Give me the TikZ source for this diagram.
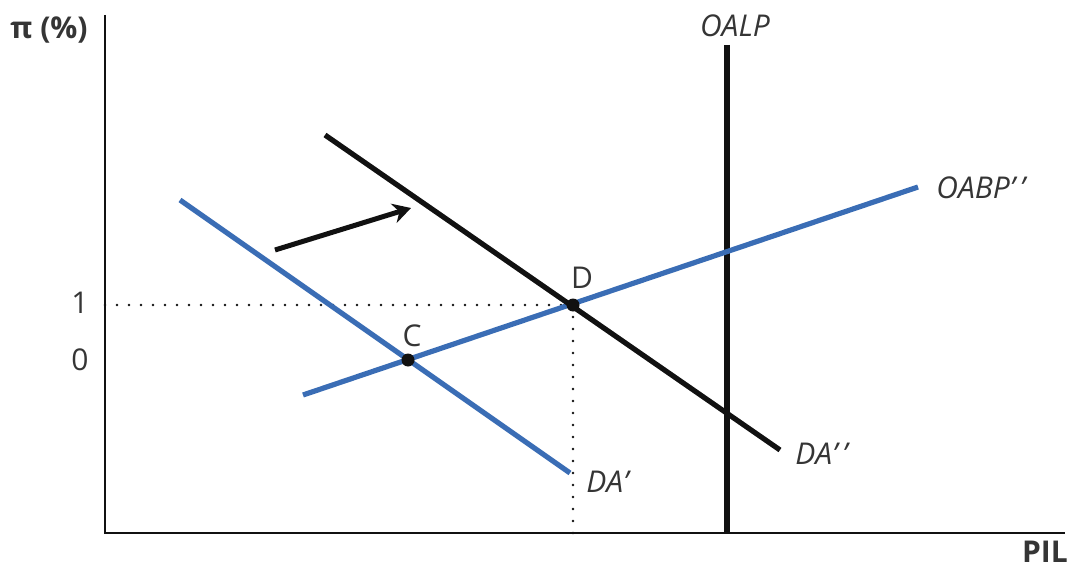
\documentclass[tikz,border=0pt]{standalone}
\usepackage{fontspec}
\setmainfont{Open Sans}
\usepackage{xcolor}
\usetikzlibrary{arrows.meta,positioning}
\definecolor{curveblue}{HTML}{3A6DB5}
\definecolor{curveblack}{HTML}{111111}
\tikzset{
  axisline/.style={curveblack, line width=1pt},
  bluecurve/.style={curveblue, line width=2.6pt},
  blackcurve/.style={curveblack, line width=2.6pt},
  shiftarrow/.style={curveblack, -{Stealth[length=9pt,width=10pt]}, line width=2.5pt},
  guide/.style={curveblack, line width=1.3pt, dash pattern=on 0pt off 6pt, line cap=round},
  eqpoint/.style={circle, fill=curveblack, inner sep=0pt, minimum size=6.5pt},
  curvelabel/.style={font=\fontsize{15}{17}\selectfont\itshape, text=curveblack!85, inner sep=0pt},
  ticklabel/.style={font=\fontsize{15}{17}\selectfont, text=curveblack!85, inner sep=0pt}
}
\begin{document}
\begin{tikzpicture}[x=0.5pt, y=-0.5pt]
  \useasboundingbox (0,0) rectangle (1071,567);
  % axes
  \coordinate (origin) at (105,533);
  \coordinate (ytop) at (105,15);
  \coordinate (xend) at (1065,533);
  \draw[axisline] (ytop) -- (origin) -- (xend);
  \node[ticklabel, font=\fontsize{15}{17}\selectfont\bfseries] (ylab) at (49,30) {π (\%)};
  \node[ticklabel, font=\fontsize{15}{17}\selectfont\bfseries] (xlab) at (1045,552) {PIL};
  % equilibrium points
  \coordinate (D) at (573,305);
  \coordinate (C) at (408,360);
  \coordinate (Dx) at (573,533);
  \coordinate (Dy) at (105,305);
  \node[ticklabel] (one) at (80,303) {1};
  \node[ticklabel] (zero) at (80,360) {0};
  % guides
  \draw[guide] (Dy) -- (D) -- (Dx);
  % curves
  \coordinate (oalptop) at (727,45);
  \coordinate (oalpbot) at (727,533);
  \draw[blackcurve] (oalptop) -- (oalpbot);
  \node[curvelabel] (oalp) at (735,26) {OALP};
  \coordinate (oabpA) at (303,395);
  \coordinate (oabpB) at (918,187);
  \draw[bluecurve] (oabpA) -- (oabpB);
  \node[curvelabel, anchor=west] (oabp) at (936,188) {OABP’\,’};
  \coordinate (dapA) at (180,200);
  \coordinate (dapB) at (570,473);
  \draw[bluecurve] (dapA) -- (dapB);
  \node[curvelabel, anchor=west] (dap) at (586,482) {DA’};
  \coordinate (dappA) at (325,135);
  \coordinate (dappB) at (780,450);
  \draw[blackcurve] (dappA) -- (dappB);
  \node[curvelabel, anchor=west] (dapp) at (795,454) {DA’\,’};
  % shift
  \coordinate (shiftA) at (275,250);
  \coordinate (shiftB) at (411,208);
  \draw[shiftarrow] (shiftA) -- (shiftB);
  % points
  \node[eqpoint] (Dpt) at (D) {};
  \node[eqpoint] (Cpt) at (C) {};
  \node[ticklabel] (Dlab) at (582,278) {D};
  \node[ticklabel] (Clab) at (412,336) {C};
\end{tikzpicture}
\end{document}
